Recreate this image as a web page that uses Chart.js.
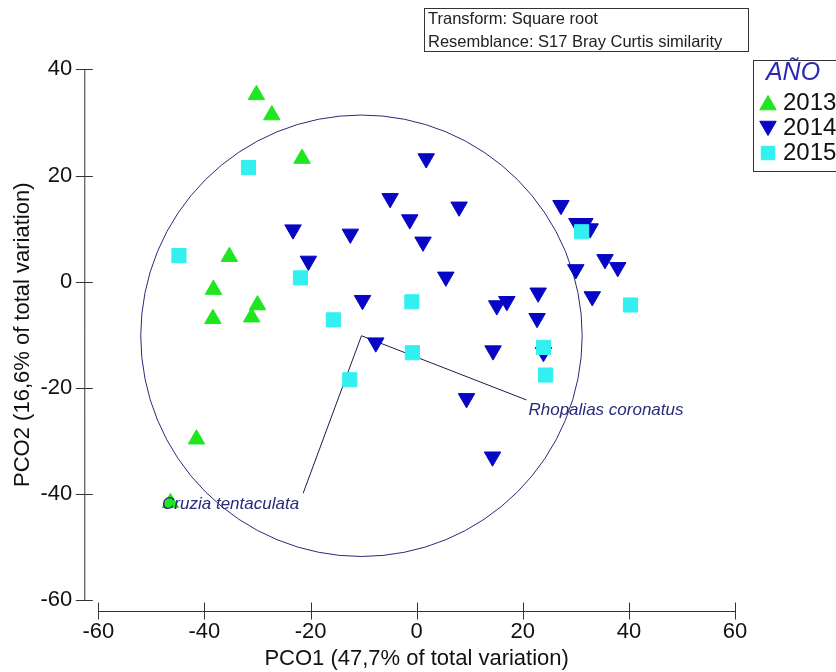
<!DOCTYPE html>
<html>
<head>
<meta charset="utf-8">
<script src="https://cdn.jsdelivr.net/npm/chart.js@4.4.1/dist/chart.umd.min.js"></script>
<style>
  html, body { margin: 0; padding: 0; background: #fff; }
  #wrap { width: 836px; height: 672px; position: relative; }
</style>
</head>
<body>
<div id="wrap"><canvas id="pco" width="836" height="672"></canvas></div>
<script>
// ── Adatok (PCO1 / PCO2 koordináták évenként) ──
const years = ['2013', '2014', '2015'];

const pco1_2013 = [-30.2, -27.3, -21.6, -35.3, -38.3, -30.0, -38.4, -31.1, -41.5, -46.4];
const pco2_2013 = [35.2, 31.4, 23.2, 4.7, -1.5, -4.4, -7.0, -6.7, -29.7, -41.7];

const pco1_2014 = [1.8, -5.0, 8.0, -1.3, -23.3, -12.5, 1.2, -20.4, 5.5, -10.2, 15.1, 17.0, 22.9, 22.7,
  -7.7, 14.4, 27.2, 30.2, 31.7, 32.7, 35.5, 37.9, 30.0, 33.1, 23.9, 9.4, 14.3];
const pco2_2014 = [23.2, 15.7, 14.1, 11.7, 9.8, 9.0, 7.5, 3.9, 0.9, -3.5, -4.5, -3.7, -2.1, -6.9,
  -11.5, -13.0, 14.4, 11.0, 11.0, 10.0, 4.2, 2.7, 2.3, -2.8, -13.3, -22.0, -33.0];

const pco1_2015 = [-31.7, -44.8, -21.9, -15.7, -0.9, -0.8, -12.6, 31.1, 40.3, 23.9, 24.3];
const pco2_2015 = [21.5, 4.9, 0.7, -7.2, -3.8, -13.4, -18.5, 9.4, -4.4, -12.4, -17.6];

// vektorok (fajok) és a korrelációs kör
const vectorNames = ['Rhopalias coronatus', 'Cruzia tentaculata'];
const vectorEndX = [20.7, -21.4];
const vectorEndY = [-22.3, -39.9];
const circleCenter = [-10.4, -10.2];
const circleRadius = 41.6;

const xTicks = [-60, -40, -20, 0, 20, 40, 60];
const yTicks = [-60, -40, -20, 0, 20, 40];

const infoLines = ['Transform: Square root', 'Resemblance: S17 Bray Curtis similarity'];

const COLORS = { '2013': '#20e620', '2014': '#0606c4', '2015': '#33f0f0' };
const FONT = '"Liberation Sans", Arial, sans-serif';

function pts(xs, ys) {
  return xs.map((x, i) => ({ x, y: ys[i] }));
}

// ── Saját rajzoló plugin: tengelyek, kör, vektorok, dobozok ──
const decorPlugin = {
  id: 'decor',
  beforeDatasetsDraw(chart) {
    const { ctx, scales: { x, y } } = chart;
    ctx.save();

    // korrelációs kör
    const cx = x.getPixelForValue(circleCenter[0]);
    const cy = y.getPixelForValue(circleCenter[1]);
    const r = x.getPixelForValue(circleCenter[0] + circleRadius) - cx;
    ctx.strokeStyle = '#2a2a78';
    ctx.lineWidth = 1;
    ctx.beginPath();
    ctx.arc(cx, cy, r, 0, Math.PI * 2);
    ctx.stroke();

    // vektorok
    ctx.strokeStyle = '#1c1c48';
    vectorNames.forEach((n, i) => {
      ctx.beginPath();
      ctx.moveTo(cx, cy);
      ctx.lineTo(x.getPixelForValue(vectorEndX[i]), y.getPixelForValue(vectorEndY[i]));
      ctx.stroke();
    });
    ctx.restore();
  },
  afterDatasetsDraw(chart) {
    const { ctx, chartArea, scales: { x, y } } = chart;
    ctx.save();

    // vektor feliratok
    ctx.font = 'italic 17px ' + FONT;
    ctx.fillStyle = '#2a2a7a';
    ctx.textBaseline = 'middle';
    ctx.textAlign = 'left';
    ctx.fillText(vectorNames[0], x.getPixelForValue(vectorEndX[0]) + 2, y.getPixelForValue(vectorEndY[0]) + 10);
    ctx.textAlign = 'right';
    ctx.fillText(vectorNames[1], x.getPixelForValue(vectorEndX[1]) - 4, y.getPixelForValue(vectorEndY[1]) + 11);

    // tengelyek (leválasztva, PRIMER stílus)
    const axisX = chartArea.left - 13.5;
    const axisY = chartArea.bottom + 11.5;
    ctx.strokeStyle = '#333';
    ctx.lineWidth = 1;
    ctx.beginPath();
    ctx.moveTo(axisX, y.getPixelForValue(yTicks[yTicks.length - 1]));
    ctx.lineTo(axisX, y.getPixelForValue(yTicks[0]));
    yTicks.forEach(t => {
      const py = Math.round(y.getPixelForValue(t)) + 0.5;
      ctx.moveTo(axisX - 9, py);
      ctx.lineTo(axisX + 8, py);
    });
    ctx.moveTo(x.getPixelForValue(xTicks[0]), axisY);
    ctx.lineTo(x.getPixelForValue(xTicks[xTicks.length - 1]), axisY);
    xTicks.forEach(t => {
      const px = Math.round(x.getPixelForValue(t)) + 0.5;
      ctx.moveTo(px, axisY - 9);
      ctx.lineTo(px, axisY + 8);
    });
    ctx.stroke();

    // info doboz
    ctx.strokeStyle = '#333';
    ctx.strokeRect(424.5, 8.5, 324, 43);
    ctx.font = '16.5px ' + FONT;
    ctx.fillStyle = '#222';
    ctx.textAlign = 'left';
    ctx.textBaseline = 'middle';
    infoLines.forEach((l, i) => ctx.fillText(l, 428, 19 + i * 23));

    // jelmagyarázat
    ctx.strokeRect(753.5, 60.5, 90, 111);
    ctx.font = 'italic 25px ' + FONT;
    ctx.fillStyle = '#2a2ab0';
    ctx.textAlign = 'center';
    ctx.fillText('AÑO', 793, 73);
    ctx.font = '24px ' + FONT;
    ctx.textAlign = 'left';
    chart.data.datasets.forEach((ds, i) => {
      const ly = 103 + i * 25;
      ctx.fillStyle = ds.backgroundColor;
      ctx.strokeStyle = ds.backgroundColor;
      Chart.helpers.drawPoint(ctx, {
        pointStyle: ds.pointStyle, radius: 9.5, rotation: ds.rotation, borderWidth: 1
      }, 768, ly + (ds.pointStyle === 'triangle' ? (ds.rotation ? -2 : 2) : 0));
      ctx.fillStyle = '#111';
      ctx.fillText(ds.label, 783, ly);
    });
    ctx.restore();
  }
};

new Chart(document.getElementById('pco'), {
  type: 'scatter',
  data: {
    datasets: [
      {
        label: years[0], data: pts(pco1_2013, pco2_2013), pointStyle: 'triangle', rotation: 0,
        backgroundColor: COLORS['2013'], borderColor: COLORS['2013'], pointRadius: 9.5, order: 3
      },
      {
        label: years[1], data: pts(pco1_2014, pco2_2014), pointStyle: 'triangle', rotation: 180,
        backgroundColor: COLORS['2014'], borderColor: COLORS['2014'], pointRadius: 9.5, order: 2
      },
      {
        label: years[2], data: pts(pco1_2015, pco2_2015), pointStyle: 'rect', rotation: 0,
        backgroundColor: COLORS['2015'], borderColor: COLORS['2015'], pointRadius: 10, order: 1
      }
    ]
  },
  options: {
    responsive: false,
    animation: false,
    devicePixelRatio: 1,
    layout: { padding: { left: 0, right: 101, top: 69.4, bottom: 0 } },
    plugins: {
      legend: { display: false },
      tooltip: { enabled: false }
    },
    elements: { point: { borderWidth: 1, hoverRadius: 9.5 } },
    scales: {
      x: {
        type: 'linear', min: -60, max: 60,
        afterFit: s => { s.height = 72; },
        afterBuildTicks: s => { s.ticks = xTicks.map(v => ({ value: v })); },
        grid: { display: false, drawTicks: false },
        border: { display: false },
        ticks: { color: '#111', padding: 18.5, font: { family: FONT, size: 22 } },
        title: {
          display: true, text: 'PCO1 (47,7% of total variation)', color: '#111',
          font: { family: FONT, size: 22 }, padding: { top: 0, bottom: 0 }
        }
      },
      y: {
        type: 'linear', min: -60, max: 40,
        afterFit: s => { s.width = 98.3; },
        afterBuildTicks: s => { s.ticks = yTicks.map(v => ({ value: v })); },
        grid: { display: false, drawTicks: false },
        border: { display: false },
        ticks: { color: '#111', padding: 26, font: { family: FONT, size: 22 } },
        title: {
          display: true, text: 'PCO2 (16,6% of total variation)', color: '#111',
          font: { family: FONT, size: 22 }, padding: { top: 10, bottom: 0 }
        }
      }
    }
  },
  plugins: [decorPlugin]
});
</script>
</body>
</html>
